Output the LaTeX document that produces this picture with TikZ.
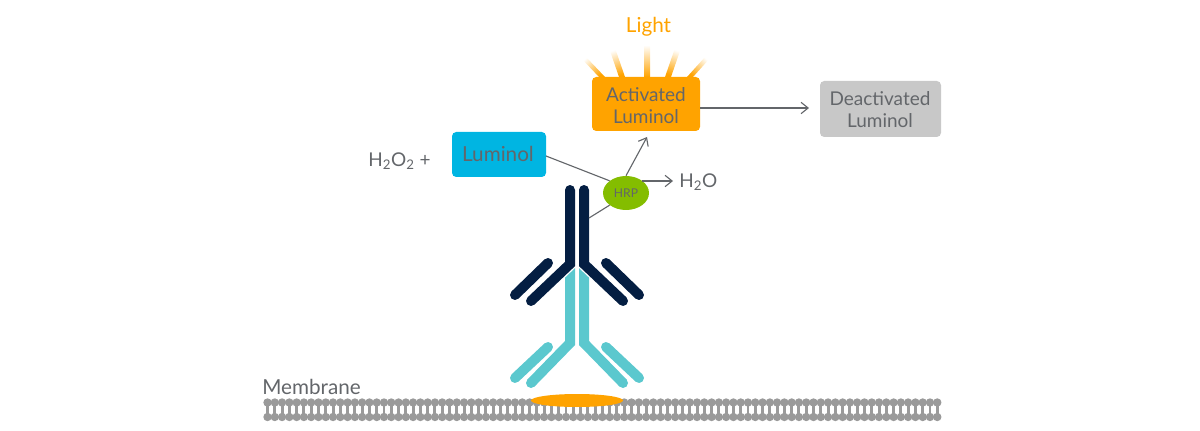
\documentclass[tikz,border=0pt]{standalone}
\usepackage{fontspec}
\setmainfont{Lato}
\usetikzlibrary{arrows.meta,shapes.geometric}
\definecolor{txtgray}{HTML}{63666A}
\definecolor{lumiblue}{HTML}{00B5E2}
\definecolor{lightorange}{HTML}{FFA300}
\definecolor{hrpgreen}{HTML}{84BD00}
\definecolor{deactgray}{HTML}{C8C8C8}
\definecolor{navyab}{HTML}{041E42}
\definecolor{tealab}{HTML}{5BC8CE}
\definecolor{lipidgray}{HTML}{9A9A9A}
\begin{document}
\begin{tikzpicture}[x=0.025cm,y=-0.025cm,
    every node/.style={font=\fontsize{13.5}{15.6}\selectfont, text=txtgray, align=center},
    big/.style={font=\fontsize{14.7}{16}\selectfont},
    box/.style={rectangle, rounded corners=3pt, inner sep=0pt},
    link/.style={draw=txtgray, line width=0.8pt},
    arrow/.style={link, -{Straight Barb[length=5pt,width=8pt,line width=0.8pt]}},
    arm/.style={line width=7.1pt, line cap=round, line join=miter}
]
    \useasboundingbox (0,0) rectangle (1200,431);

    % membrane
    \foreach \i in {0,...,92} {
        \fill[lipidgray] (267.5+\i*7.28,402.5) circle (4.2);
        \fill[lipidgray] (267.5+\i*7.28,417) circle (4.2);
        \draw[lipidgray, line width=2.1pt] (267.5+\i*7.28,402.5) -- (267.5+\i*7.28,417);
    }
    \node[fill=lightorange, ellipse, minimum width=92*0.025cm, minimum height=13*0.025cm, inner sep=0pt] (antigen) at (577,400.5) {};
    \node[big, anchor=west, inner sep=0pt] (membrane) at (262,387) {Membrane};

    % light rays
    \foreach \ax/\ay/\bx/\by/\ang in {602/77/583/57/43, 622/77/612/48/19, 647/77/647/45/0, 668/77/678/48/-19, 690/77/708/57/-43} {
        \shade[shading=axis, top color=white, bottom color=lightorange, shading angle=\ang]
            (\ax-3,\ay) -- (\bx-3,\by) -- (\bx+3,\by) -- (\ax+3,\ay) -- cycle;
    }

    % antibodies
    \foreach \s in {-1,1} {
        \draw[tealab, arm, line cap=butt] (577+\s*7,268) -- (577+\s*7,343) -- (577+\s*46,383);
        \fill[tealab] (577+\s*46,383) circle (5);
        \draw[tealab, arm] (577+\s*29,347) -- (577+\s*62,378);
    }
    \foreach \s in {-1,1} {
        \draw[white, line width=9pt] (577+\s*7,190) -- (577+\s*7,264) -- (577+\s*46,301);
        \draw[navyab, arm] (577+\s*7,190) -- (577+\s*7,264) -- (577+\s*46,301);
        \draw[navyab, arm] (577+\s*29,263) -- (577+\s*62,295);
    }

    % boxes
    \node[box, fill=lumiblue, minimum width=94*0.025cm, minimum height=45*0.025cm] (luminol) at (499,154.5) {};
    \node[big, inner sep=0pt] (luminoltxt) at (498,153.5) {Luminol};
    \node[box, fill=lightorange, minimum width=108*0.025cm, minimum height=54*0.025cm] (activated) at (646,104) {};
    \node[inner sep=0pt] (activatedtxt) at (646,105.5) {Activated\\Luminol};
    \node[box, fill=deactgray, minimum width=121*0.025cm, minimum height=56*0.025cm] (deactivated) at (880.5,109) {};
    \node[inner sep=0pt] (deactivatedtxt) at (880,110) {Deactivated\\Luminol};
    \node[ellipse, fill=hrpgreen, minimum width=46*0.025cm, minimum height=34*0.025cm, inner sep=0pt, font=\fontsize{8.6}{10}\selectfont] (hrp) at (626,193) {HRP};

    % labels
    \node[big, text=lightorange] (light) at (648.5,26.5) {Light};
    \node[anchor=west, inner sep=0pt] (water) at (679,182.5) {H\textsubscript{2}O};
    \node[anchor=west, inner sep=0pt] (peroxide) at (368,161.5) {H\textsubscript{2}O\textsubscript{2} +};

    \coordinate (lumout) at (546,156);
    \coordinate (hinge) at (589,218);
    \coordinate (tip) at (647,137);
    \coordinate (waterin) at (673,181);
    \coordinate (deactin) at (809,108);

    % connectors
    \draw[link] (lumout) -- (hrp.north west);
    \draw[link] (hinge) -- (hrp.south west);
    \draw[arrow] (hrp.north) -- (tip);
    \draw[arrow] (hrp.north east |- waterin) -- (waterin);
    \draw[arrow] (activated.east |- deactin) -- (deactin);
\end{tikzpicture}
\end{document}
